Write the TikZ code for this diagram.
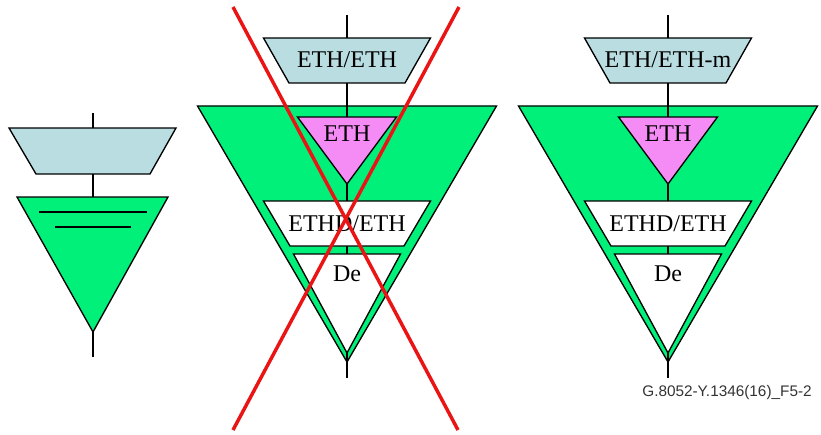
\documentclass[tikz,border=0pt]{standalone}
\usepackage{fontspec}
\setmainfont{Liberation Serif}
\setsansfont{Liberation Sans}
\usepackage{xcolor}
\usepackage{tikz}
\usetikzlibrary{calc}

\definecolor{adaptblue}{RGB}{185,221,224}
\definecolor{trailgreen}{RGB}{0,240,122}
\definecolor{ethpink}{RGB}{245,140,245}
\definecolor{crossred}{RGB}{235,20,20}

\begin{document}
\begin{tikzpicture}[x=0.75pt,y=-0.75pt,
  edge/.style={draw=black, line width=1pt, line join=miter},
  adapt/.style={edge, fill=adaptblue},
  trail/.style={edge, fill=trailgreen},
  ethfn/.style={edge, fill=ethpink},
  blank/.style={edge, fill=white},
  link/.style={draw=black, line width=1pt},
  lbl/.style={font=\fontsize{18}{20}\selectfont, inner sep=0pt},
  cross/.style={draw=crossred, line width=2.6pt},
  figid/.style={font=\sffamily\fontsize{11.5}{13}\selectfont, text=black!80, inner sep=0pt},
]
\useasboundingbox (0,0) rectangle (821,435);

% generic symbol (left)
\coordinate (g-in) at (93,113);
\coordinate (g-out) at (93,357);
\draw[adapt] (9,128) -- (176,128) -- (150,174) -- (36,174) -- cycle;
\draw[trail] (17,197) -- (168,197) -- (93,332) -- cycle;
\coordinate (g-at) at (93,128);
\coordinate (g-ab) at (93,174);
\coordinate (g-tt) at (93,197);
\coordinate (g-tb) at (93,332);
\draw[link] (g-in) -- (g-at);
\draw[link] (g-ab) -- (g-tt);
\draw[link] (g-tb) -- (g-out);
\draw[link] (39,212) -- (147,212);
\draw[link] (55,227) -- (131,227);

% expanded symbols (middle: not allowed, right: used)
\foreach \cx/\id/\txt in {347/m/{ETH/ETH},668/r/{ETH/ETH-m}}{
  \draw[adapt] (\cx-83.5,38) -- (\cx+83.5,38) -- (\cx+58,83) -- (\cx-58,83) -- cycle;
  \draw[trail] (\cx-149.5,106) -- (\cx+149.5,106) -- (\cx,362) -- cycle;
  \coordinate (\id-in) at (\cx,15);
  \coordinate (\id-at) at (\cx,38);
  \coordinate (\id-ab) at (\cx,83);
  \coordinate (\id-et) at (\cx,117);
  \coordinate (\id-eb) at (\cx,184);
  \coordinate (\id-dt) at (\cx,201);
  \coordinate (\id-db) at (\cx,246);
  \coordinate (\id-ct) at (\cx,254);
  \coordinate (\id-cb) at (\cx,353);
  \coordinate (\id-out) at (\cx,378);
  \draw[link] (\id-in) -- (\id-at);
  \draw[link] (\id-ab) -- (\id-et);
  \draw[link] (\id-eb) -- (\id-dt);
  \draw[link] (\id-db) -- (\id-ct);
  \draw[link] (\id-cb) -- (\id-out);
  \draw[ethfn] (\cx-49.5,117) -- (\cx+49.5,117) -- (\cx,184) -- cycle;
  \draw[blank] (\cx-83.5,201) -- (\cx+83.5,201) -- (\cx+57,246) -- (\cx-57,246) -- cycle;
  \draw[blank] (\cx-53.5,254) -- (\cx+53.5,254) -- (\cx,353) -- cycle;
  \node[lbl] (adapt-\id) at (\cx,60) {\txt};
  \node[lbl] (eth-\id) at (\cx,134) {ETH};
  \node[lbl] (ethd-\id) at (\cx,224) {ETHD/ETH};
  \node[lbl] (de-\id) at (\cx,274) {De};
}

% crossed out
\draw[cross] (233,7) -- (458,430);
\draw[cross] (459,7) -- (233,430);

\node[figid] (figref) at (727,393) {G.8052-Y.1346(16)\_F5-2};

\end{tikzpicture}
\end{document}
